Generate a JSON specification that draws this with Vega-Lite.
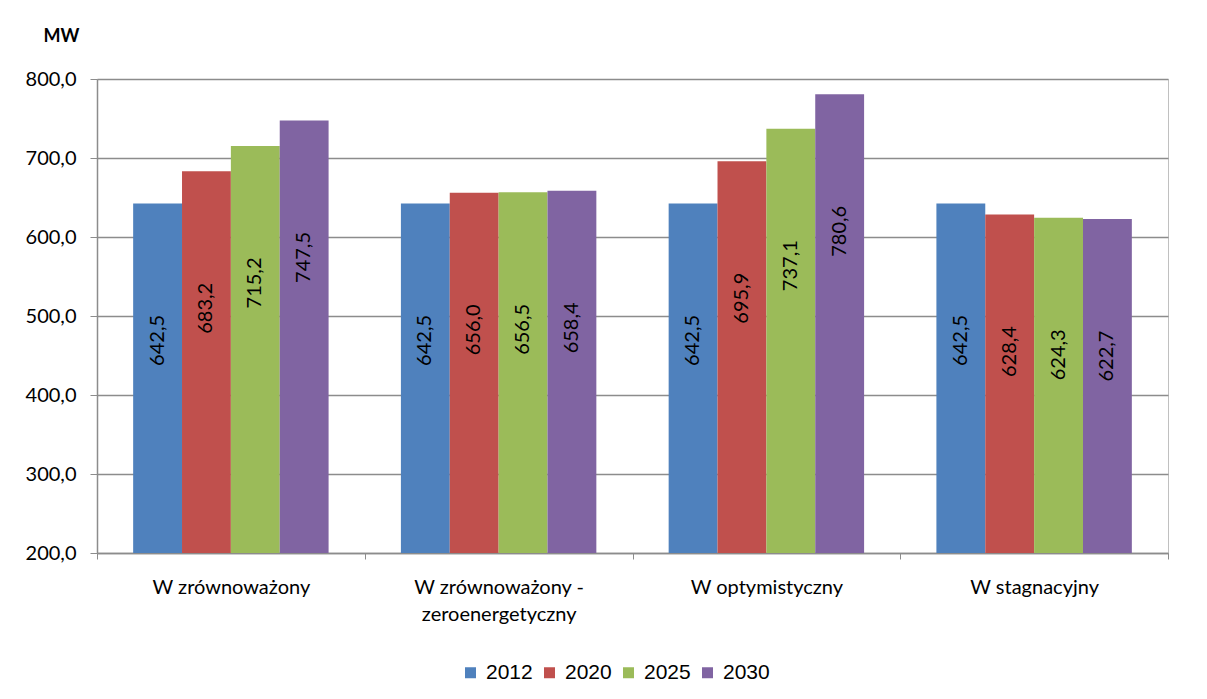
{
  "$schema": "https://vega.github.io/schema/vega-lite/v6.json",
  "width": 1071,
  "height": 474,
  "autosize": {"type": "none"},
  "padding": {"left": 97, "top": 79, "right": 39, "bottom": 146},
  "background": "white",
  "config": {
    "locale": {"number": {"decimal": ",", "thousands": " ", "grouping": [3], "currency": ["", " zł"]}},
    "view": {"stroke": "#c0c0c0", "strokeWidth": 1},
    "font": "Lato"
  },
  "data": {
    "values": [
      {"scenariusz": "W zrównoważony", "rok": "2012", "moc": 642.5},
      {"scenariusz": "W zrównoważony", "rok": "2020", "moc": 683.2},
      {"scenariusz": "W zrównoważony", "rok": "2025", "moc": 715.2},
      {"scenariusz": "W zrównoważony", "rok": "2030", "moc": 747.5},
      {"scenariusz": "W zrównoważony - zeroenergetyczny", "rok": "2012", "moc": 642.5},
      {"scenariusz": "W zrównoważony - zeroenergetyczny", "rok": "2020", "moc": 656.0},
      {"scenariusz": "W zrównoważony - zeroenergetyczny", "rok": "2025", "moc": 656.5},
      {"scenariusz": "W zrównoważony - zeroenergetyczny", "rok": "2030", "moc": 658.4},
      {"scenariusz": "W optymistyczny", "rok": "2012", "moc": 642.5},
      {"scenariusz": "W optymistyczny", "rok": "2020", "moc": 695.9},
      {"scenariusz": "W optymistyczny", "rok": "2025", "moc": 737.1},
      {"scenariusz": "W optymistyczny", "rok": "2030", "moc": 780.6},
      {"scenariusz": "W stagnacyjny", "rok": "2012", "moc": 642.5},
      {"scenariusz": "W stagnacyjny", "rok": "2020", "moc": 628.4},
      {"scenariusz": "W stagnacyjny", "rok": "2025", "moc": 624.3},
      {"scenariusz": "W stagnacyjny", "rok": "2030", "moc": 622.7}
    ]
  },
  "encoding": {
    "x": {
      "field": "scenariusz",
      "type": "nominal",
      "sort": null,
      "scale": {"paddingInner": 0, "paddingOuter": 0},
      "axis": {
        "title": null,
        "labelAngle": 0,
        "labelFont": "Lato",
        "labelFontSize": 20,
        "labelColor": "black",
        "labelLimit": 0,
        "labelPadding": 18,
        "labelLineHeight": 27,
        "labelExpr": "datum.label == 'W zrównoważony - zeroenergetyczny' ? ['W zrównoważony -', 'zeroenergetyczny'] : datum.label",
        "tickBand": "extent",
        "tickSize": 6,
        "tickColor": "#8c8c8c",
        "domainColor": "#8c8c8c",
        "domainWidth": 1.5
      }
    },
    "xOffset": {
      "field": "rok",
      "type": "nominal",
      "sort": null,
      "scale": {"paddingInner": 0, "paddingOuter": 0.74}
    },
    "y": {
      "field": "moc",
      "type": "quantitative",
      "scale": {"domain": [200, 800], "zero": false, "nice": false},
      "axis": {
        "title": "MW",
        "titleAngle": 0,
        "titleX": -54,
        "titleY": -38,
        "titleAlign": "left",
        "titleBaseline": "alphabetic",
        "titleFont": "Lato",
        "titleFontWeight": "bold",
        "titleFontSize": 18,
        "titleColor": "black",
        "values": [200, 300, 400, 500, 600, 700, 800],
        "format": ".1f",
        "labelFont": "Lato",
        "labelFontSize": 20,
        "labelColor": "black",
        "labelPadding": 14,
        "tickSize": 7,
        "tickColor": "#8c8c8c",
        "domainColor": "#8c8c8c",
        "domainWidth": 1.5,
        "grid": true,
        "gridColor": "#8c8c8c",
        "gridWidth": 1.5
      }
    }
  },
  "layer": [
    {
      "mark": {"type": "bar", "clip": true},
      "encoding": {
        "color": {
          "field": "rok",
          "type": "nominal",
          "scale": {"domain": ["2012", "2020", "2025", "2030"], "range": ["#4F81BD", "#C0504D", "#9BBB59", "#8064A2"]},
          "legend": {
            "title": null,
            "orient": "none",
            "legendX": 363,
            "legendY": 583,
            "direction": "horizontal",
            "symbolType": "square",
            "symbolSize": 121,
            "symbolStrokeWidth": 0,
            "labelFont": "Liberation Sans",
            "labelFontSize": 21,
            "labelColor": "black",
            "labelOffset": 5,
            "columnPadding": 6
          }
        }
      }
    },
    {
      "mark": {"type": "text", "angle": 270, "align": "center", "baseline": "middle", "dx": -137, "font": "Lato", "fontSize": 20, "color": "black"},
      "encoding": {
        "text": {"field": "moc", "type": "quantitative", "format": ".1f"}
      }
    }
  ]
}
